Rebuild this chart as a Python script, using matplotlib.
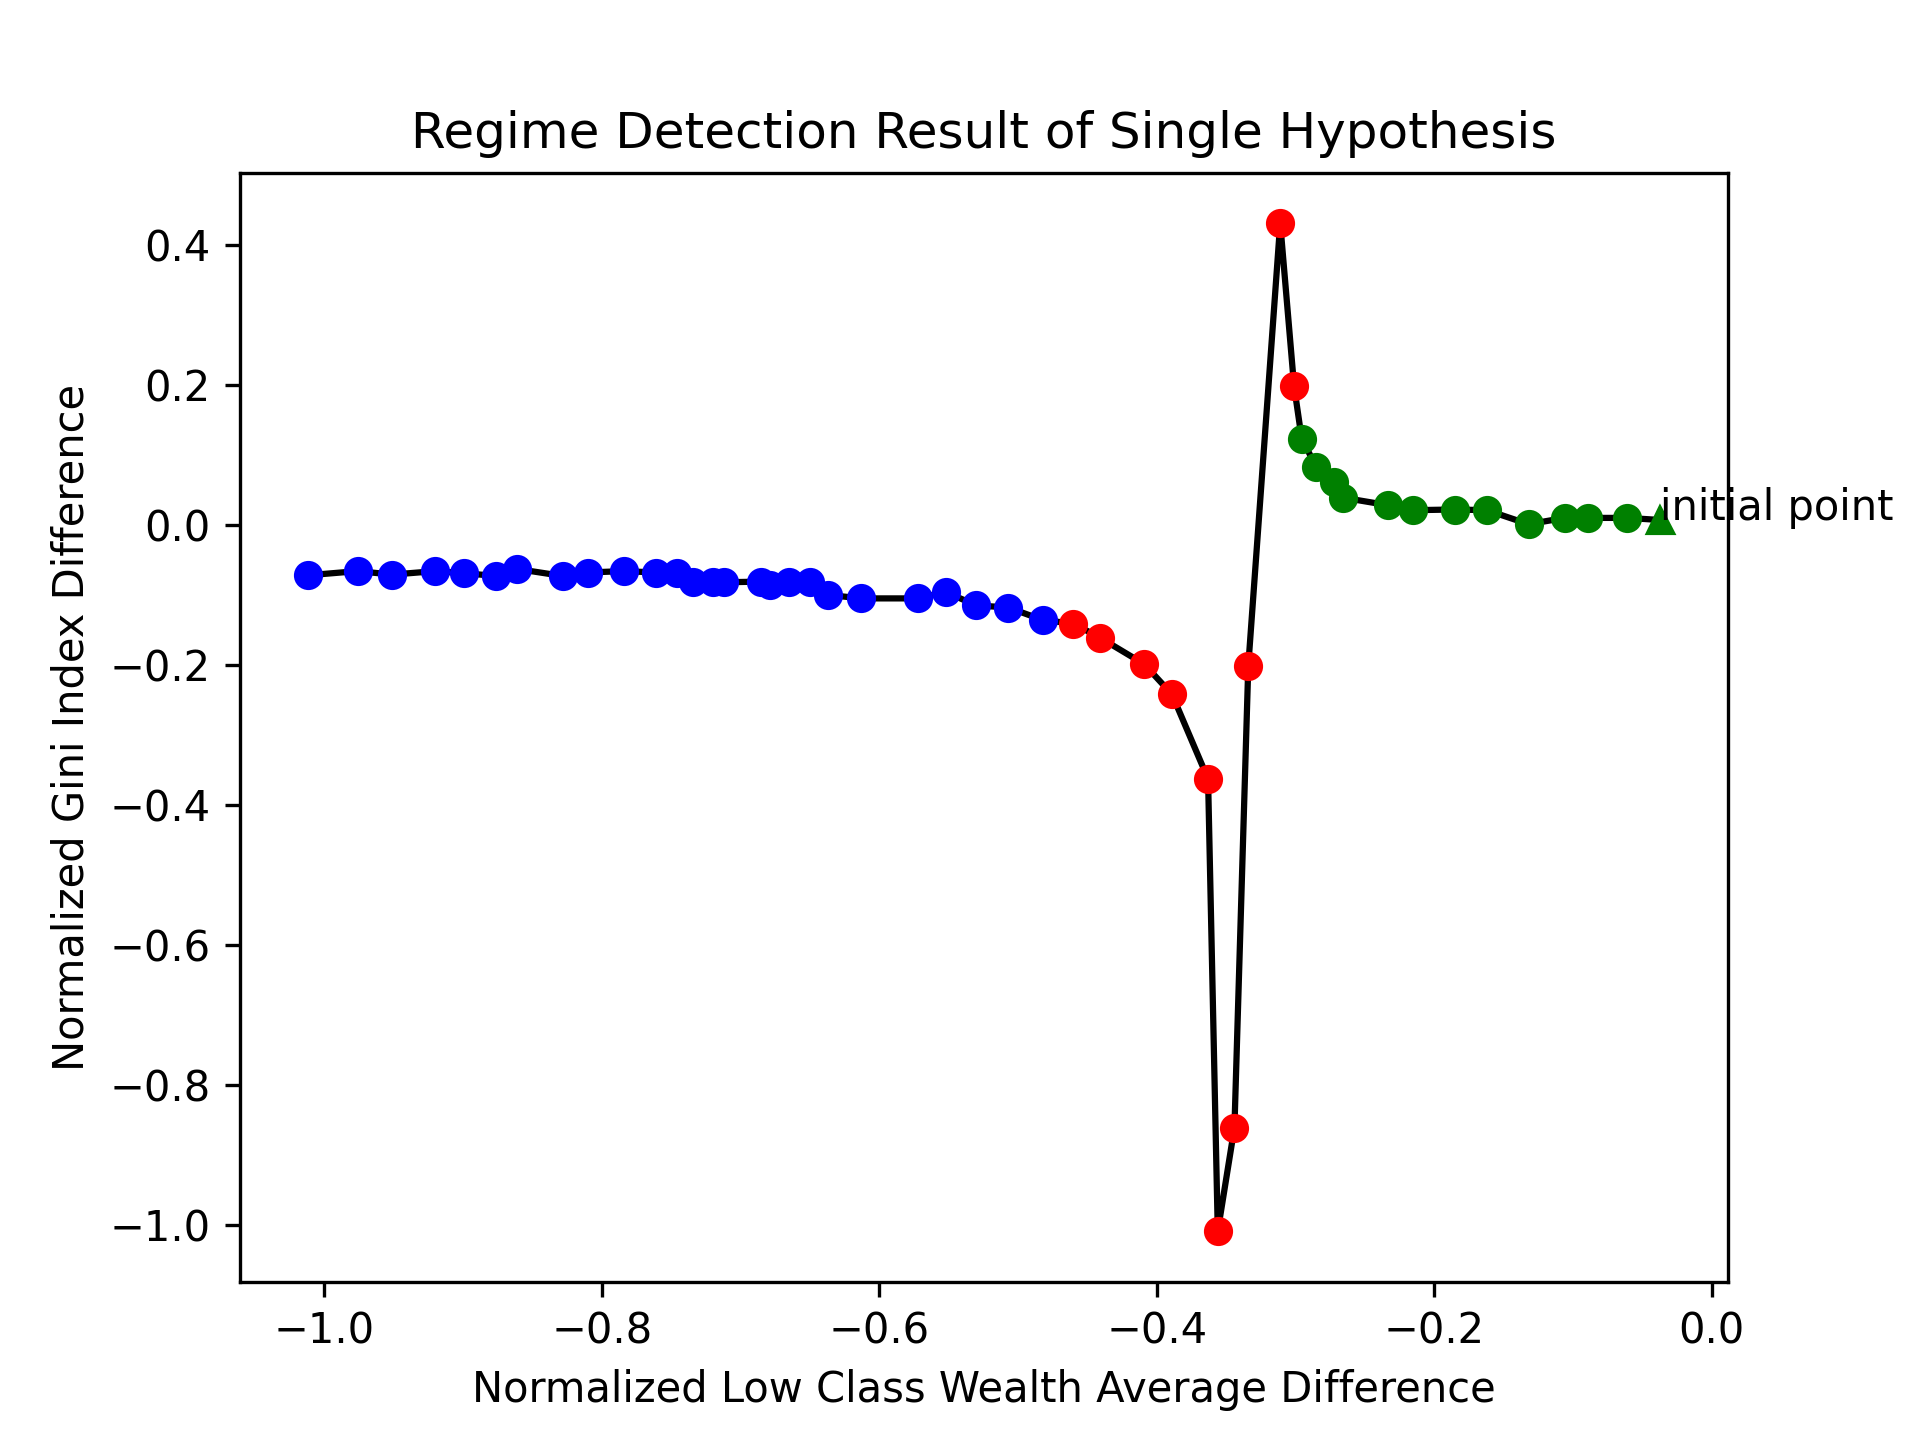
import numpy as np
import matplotlib
matplotlib.use('Agg')
import matplotlib.pyplot as plt

# points, in the order the line joins them
x_blue = [-1.012, -0.976, -0.951, -0.920, -0.899, -0.876, -0.861, -0.828, -0.810,
          -0.784, -0.761, -0.746, -0.734, -0.720, -0.712, -0.685, -0.679, -0.665,
          -0.650, -0.637, -0.613, -0.572, -0.552, -0.530, -0.507, -0.482]
y_blue = [-0.072, -0.066, -0.071, -0.066, -0.069, -0.073, -0.063, -0.073, -0.068,
          -0.066, -0.068, -0.069, -0.081, -0.082, -0.082, -0.081, -0.086, -0.082,
          -0.082, -0.100, -0.105, -0.105, -0.096, -0.115, -0.118, -0.136]
x_red = [-0.460, -0.441, -0.409, -0.389, -0.363, -0.356, -0.344, -0.334, -0.311, -0.301]
y_red = [-0.141, -0.161, -0.199, -0.242, -0.363, -1.009, -0.861, -0.201, 0.431, 0.198]
x_green = [-0.2955, -0.285, -0.272, -0.266, -0.233, -0.2155, -0.185, -0.162,
           -0.132, -0.106, -0.089, -0.061]
y_green = [0.123, 0.083, 0.062, 0.039, 0.028, 0.021, 0.022, 0.021,
           0.001, 0.010, 0.010, 0.010]
x_init, y_init = -0.037, 0.007

x_all = x_blue + x_red + x_green + [x_init]
y_all = y_blue + y_red + y_green + [y_init]

fig = plt.figure(figsize=(6.4, 4.8), dpi=300)
ax = fig.add_subplot(1, 1, 1)
ax.plot(x_all, y_all, 'k-')
ax.plot(x_blue, y_blue, 'bo')
ax.plot(x_red, y_red, 'ro')
ax.plot(x_green, y_green, 'go')
ax.plot([x_init], [y_init], 'g^')
ax.text(x_init, y_init, 'initial point')
ax.set_title('Regime Detection Result of Single Hypothesis')
ax.set_xlabel('Normalized Low Class Wealth Average Difference')
ax.set_ylabel('Normalized Gini Index Difference')
plt.savefig('out.png', dpi=300)
